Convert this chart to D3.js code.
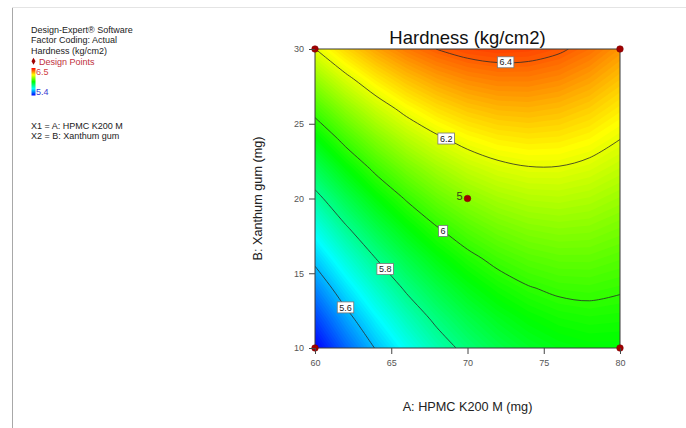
<!DOCTYPE html>
<html>
<head>
<meta charset="utf-8">
<script src="https://cdn.jsdelivr.net/npm/d3@7"></script>
<style>
body { margin: 0; background: #fff; }
svg { font-family: "Liberation Sans", Arial, sans-serif; }
</style>
</head>
<body>
<svg id="chart" width="686" height="428"></svg>
<script>
// hardness readings on a grid, rows B = 10..30 (step 2), columns A = 60..80 (step 2)
var gridA = [60, 62, 64, 66, 68, 70, 72, 74, 76, 78, 80];
var gridB = [10, 12, 14, 16, 18, 20, 22, 24, 26, 28, 30];
var hardness = [
  [5.399, 5.508, 5.605, 5.689, 5.762, 5.823, 5.871, 5.907, 5.931, 5.943, 5.943],
  [5.470, 5.575, 5.668, 5.749, 5.818, 5.874, 5.918, 5.950, 5.970, 5.978, 5.974],
  [5.544, 5.645, 5.734, 5.811, 5.875, 5.928, 5.968, 5.996, 6.012, 6.016, 6.007],
  [5.620, 5.717, 5.801, 5.874, 5.935, 5.983, 6.019, 6.043, 6.055, 6.055, 6.042],
  [5.697, 5.790, 5.871, 5.939, 5.996, 6.040, 6.072, 6.092, 6.100, 6.096, 6.079],
  [5.776, 5.865, 5.942, 6.006, 6.059, 6.099, 6.127, 6.143, 6.147, 6.138, 6.118],
  [5.857, 5.942, 6.015, 6.075, 6.123, 6.160, 6.184, 6.196, 6.196, 6.183, 6.159],
  [5.940, 6.021, 6.089, 6.146, 6.190, 6.222, 6.242, 6.250, 6.246, 6.230, 6.201],
  [6.025, 6.101, 6.166, 6.219, 6.259, 6.287, 6.303, 6.307, 6.298, 6.278, 6.245],
  [6.111, 6.184, 6.245, 6.293, 6.329, 6.353, 6.365, 6.365, 6.353, 6.328, 6.291],
  [6.199, 6.268, 6.325, 6.369, 6.401, 6.421, 6.429, 6.425, 6.409, 6.380, 6.339]
];
var contourLevels = [5.6, 5.8, 6, 6.2, 6.4];
var designA = [60, 80, 60, 80, 70];
var designB = [10, 10, 30, 30, 20];
var designReps = [1, 1, 1, 1, 5];
var xTicks = [60, 65, 70, 75, 80];
var yTicks = [10, 15, 20, 25, 30];
var colorStops = [5.4, 5.675, 5.95, 6.225, 6.5];
var colorRange = ["#0000ff", "#00ffff", "#00ff00", "#ffff00", "#ff0000"];

// where along A each contour label sits (layout only)
var labelA = {"5.6": 62, "5.8": 64.6, "6": 68.4, "6.2": 68.6, "6.4": 72.5};

var svg = d3.select("#chart");
var plot = {left: 315, right: 620, top: 49, bottom: 348};

var x = d3.scaleLinear().domain([60, 80]).range([plot.left, plot.right]);
var y = d3.scaleLinear().domain([10, 30]).range([plot.bottom, plot.top]);
var color = d3.scaleLinear().domain(colorStops).range(colorRange).clamp(true);

// page frame lines
svg.append("line").attr("x1", 12.5).attr("x2", 12.5).attr("y1", 7).attr("y2", 428)
  .attr("stroke", "#a8a8a8");
svg.append("line").attr("x1", 12).attr("x2", 686).attr("y1", 7.5).attr("y2", 7.5)
  .attr("stroke", "#e4e4e4");

// grid coords -> pixels (d3.contours puts sample i at i + 0.5)
var n = gridA.length, m = gridB.length;
var gx = d3.scaleLinear().domain([0.5, n - 0.5]).range([x(gridA[0]), x(gridA[n - 1])]);
var gy = d3.scaleLinear().domain([0.5, m - 0.5]).range([y(gridB[0]), y(gridB[m - 1])]);
var path = d3.geoPath(d3.geoTransform({
  point: function(px, py) { this.stream.point(gx(px), gy(py)); }
}));

var values = hardness.flat();

svg.append("clipPath").attr("id", "plotclip").append("rect")
  .attr("x", plot.left).attr("y", plot.top)
  .attr("width", plot.right - plot.left).attr("height", plot.bottom - plot.top);

var g = svg.append("g").attr("clip-path", "url(#plotclip)");

var bands = d3.contours().size([n, m]).thresholds(d3.range(5.38, 6.5, 0.01))(values);
g.selectAll("path.band").data(bands).join("path")
  .attr("class", "band")
  .attr("d", path)
  .attr("fill", d => color(d.value + 0.005));

// iso lines: keep only the parts inside the sampled area, then smooth them
function isoRuns(c) {
  var runs = [], eps = 1e-6;
  var ok = p => p[0] >= 0.5 - eps && p[0] <= n - 0.5 + eps && p[1] >= 0.5 - eps && p[1] <= m - 0.5 + eps;
  c.coordinates.forEach(function(poly) {
    poly.forEach(function(ring) {
      var pts = ring.slice(0, -1);
      var start = pts.findIndex(p => !ok(p));
      if (start < 0) { runs.push(ring.map(p => [gx(p[0]), gy(p[1])])); return; }
      var cur = [];
      for (var k = 1; k <= pts.length; k++) {
        var p = pts[(start + k) % pts.length];
        if (ok(p)) cur.push([gx(p[0]), gy(p[1])]);
        else { if (cur.length > 1) runs.push(cur); cur = []; }
      }
      if (cur.length > 1) runs.push(cur);
    });
  });
  return runs;
}

var lines = d3.contours().size([n, m]).thresholds(contourLevels)(values);
var smooth = d3.line().curve(d3.curveCatmullRom.alpha(0.5));
lines.forEach(function(c) {
  c.runs = isoRuns(c);
  g.selectAll(null).data(c.runs).join("path")
    .attr("d", smooth)
    .attr("fill", "none")
    .attr("stroke", "#2a2a2a")
    .attr("stroke-width", 0.8);
});

// frame
svg.append("rect")
  .attr("x", plot.left).attr("y", plot.top)
  .attr("width", plot.right - plot.left).attr("height", plot.bottom - plot.top)
  .attr("fill", "none").attr("stroke", "#3a3a3a").attr("stroke-width", 1);

// contour labels
function labelPoint(runs, a) {
  var px = x(a), best = null;
  runs.forEach(function(r) {
    for (var i = 1; i < r.length; i++) {
      var x0 = r[i - 1][0], y0 = r[i - 1][1], x1 = r[i][0], y1 = r[i][1];
      if (x0 === x1 || (x0 - px) * (x1 - px) > 0) continue;
      var t = (px - x0) / (x1 - x0);
      best = [px, y0 + t * (y1 - y0)];
    }
  });
  return best;
}

lines.forEach(function(c) {
  var p = labelPoint(c.runs, labelA[String(c.value)]);
  if (!p) return;
  var lg = svg.append("g").attr("transform", "translate(" + p[0] + "," + p[1] + ")");
  var box = lg.append("rect");
  var t = lg.append("text").text(String(c.value))
    .attr("text-anchor", "middle").attr("dy", "0.35em")
    .attr("font-size", "9px").attr("fill", "#222");
  var w = t.node().getComputedTextLength() + 4;
  box.attr("x", -w / 2).attr("y", -5.5).attr("width", w).attr("height", 11)
    .attr("fill", "#fff").attr("stroke", "#777").attr("stroke-width", 0.8);
});

// design points
designA.forEach(function(a, i) {
  svg.append("circle").attr("cx", x(a)).attr("cy", y(designB[i])).attr("r", 3.3)
    .attr("fill", "#a00000").attr("stroke", "#7a0000").attr("stroke-width", 0.5);
  if (designReps[i] > 1) {
    svg.append("text").attr("x", x(a) - 5).attr("y", y(designB[i]))
      .attr("dy", "0.1em").attr("text-anchor", "end")
      .attr("font-size", "11px").attr("fill", "#34451a")
      .text(designReps[i]);
  }
});

// axes
var xAxis = svg.append("g").attr("transform", "translate(0," + plot.bottom + ")")
  .call(d3.axisBottom(x).tickValues(xTicks).tickSize(6).tickPadding(6).tickSizeOuter(0));
var yAxis = svg.append("g").attr("transform", "translate(" + plot.left + ",0)")
  .call(d3.axisLeft(y).tickValues(yTicks).tickSize(6).tickPadding(5).tickSizeOuter(0));
[xAxis, yAxis].forEach(function(ax) {
  ax.select(".domain").remove();
  ax.selectAll(".tick line").attr("stroke", "#444");
  ax.selectAll(".tick text").attr("font-size", "9px").attr("fill", "#555")
    .attr("font-family", "Liberation Sans, Arial, sans-serif");
});

// titles
svg.append("text").attr("x", (plot.left + plot.right) / 2).attr("y", 44)
  .attr("text-anchor", "middle").attr("font-size", "18.5px").attr("fill", "#111")
  .text("Hardness (kg/cm2)");
svg.append("text").attr("x", (plot.left + plot.right) / 2).attr("y", 411)
  .attr("text-anchor", "middle").attr("font-size", "12.7px").attr("fill", "#222")
  .text("A: HPMC K200 M (mg)");
svg.append("text")
  .attr("transform", "translate(262," + ((plot.top + plot.bottom) / 2) + ") rotate(-90)")
  .attr("text-anchor", "middle").attr("font-size", "12.7px").attr("fill", "#222")
  .text("B: Xanthum gum (mg)");

// legend block
var leg = svg.append("g").attr("font-size", "9px").attr("fill", "#222");
leg.append("text").attr("x", 31).attr("y", 32.5).text("Design-Expert® Software");
leg.append("text").attr("x", 31).attr("y", 43).text("Factor Coding: Actual");
leg.append("text").attr("x", 31).attr("y", 53.5).text("Hardness (kg/cm2)");
leg.append("path").attr("d", d3.symbol(d3.symbolDiamond, 14)())
  .attr("transform", "translate(33.5,61.3)").attr("fill", "#a00000");
leg.append("text").attr("x", 39).attr("y", 64.5).attr("fill", "#c0303c").text("Design Points");

var grad = svg.append("defs").append("linearGradient").attr("id", "legGrad")
  .attr("x1", 0).attr("x2", 0).attr("y1", 1).attr("y2", 0);
colorStops.forEach(function(v) {
  grad.append("stop")
    .attr("offset", (v - colorStops[0]) / (colorStops[colorStops.length - 1] - colorStops[0]))
    .attr("stop-color", color(v));
});
leg.append("rect").attr("x", 31.5).attr("y", 68).attr("width", 4).attr("height", 27.5)
  .attr("fill", "url(#legGrad)");
leg.append("text").attr("x", 36).attr("y", 75).attr("fill", "#d04040")
  .text(d3.max(colorStops));
leg.append("text").attr("x", 36).attr("y", 95).attr("fill", "#3a3ad0")
  .text(d3.min(colorStops));
leg.append("text").attr("x", 31).attr("y", 128.5).text("X1 = A: HPMC K200 M");
leg.append("text").attr("x", 31).attr("y", 138.5).text("X2 = B: Xanthum gum");
</script>
</body>
</html>
